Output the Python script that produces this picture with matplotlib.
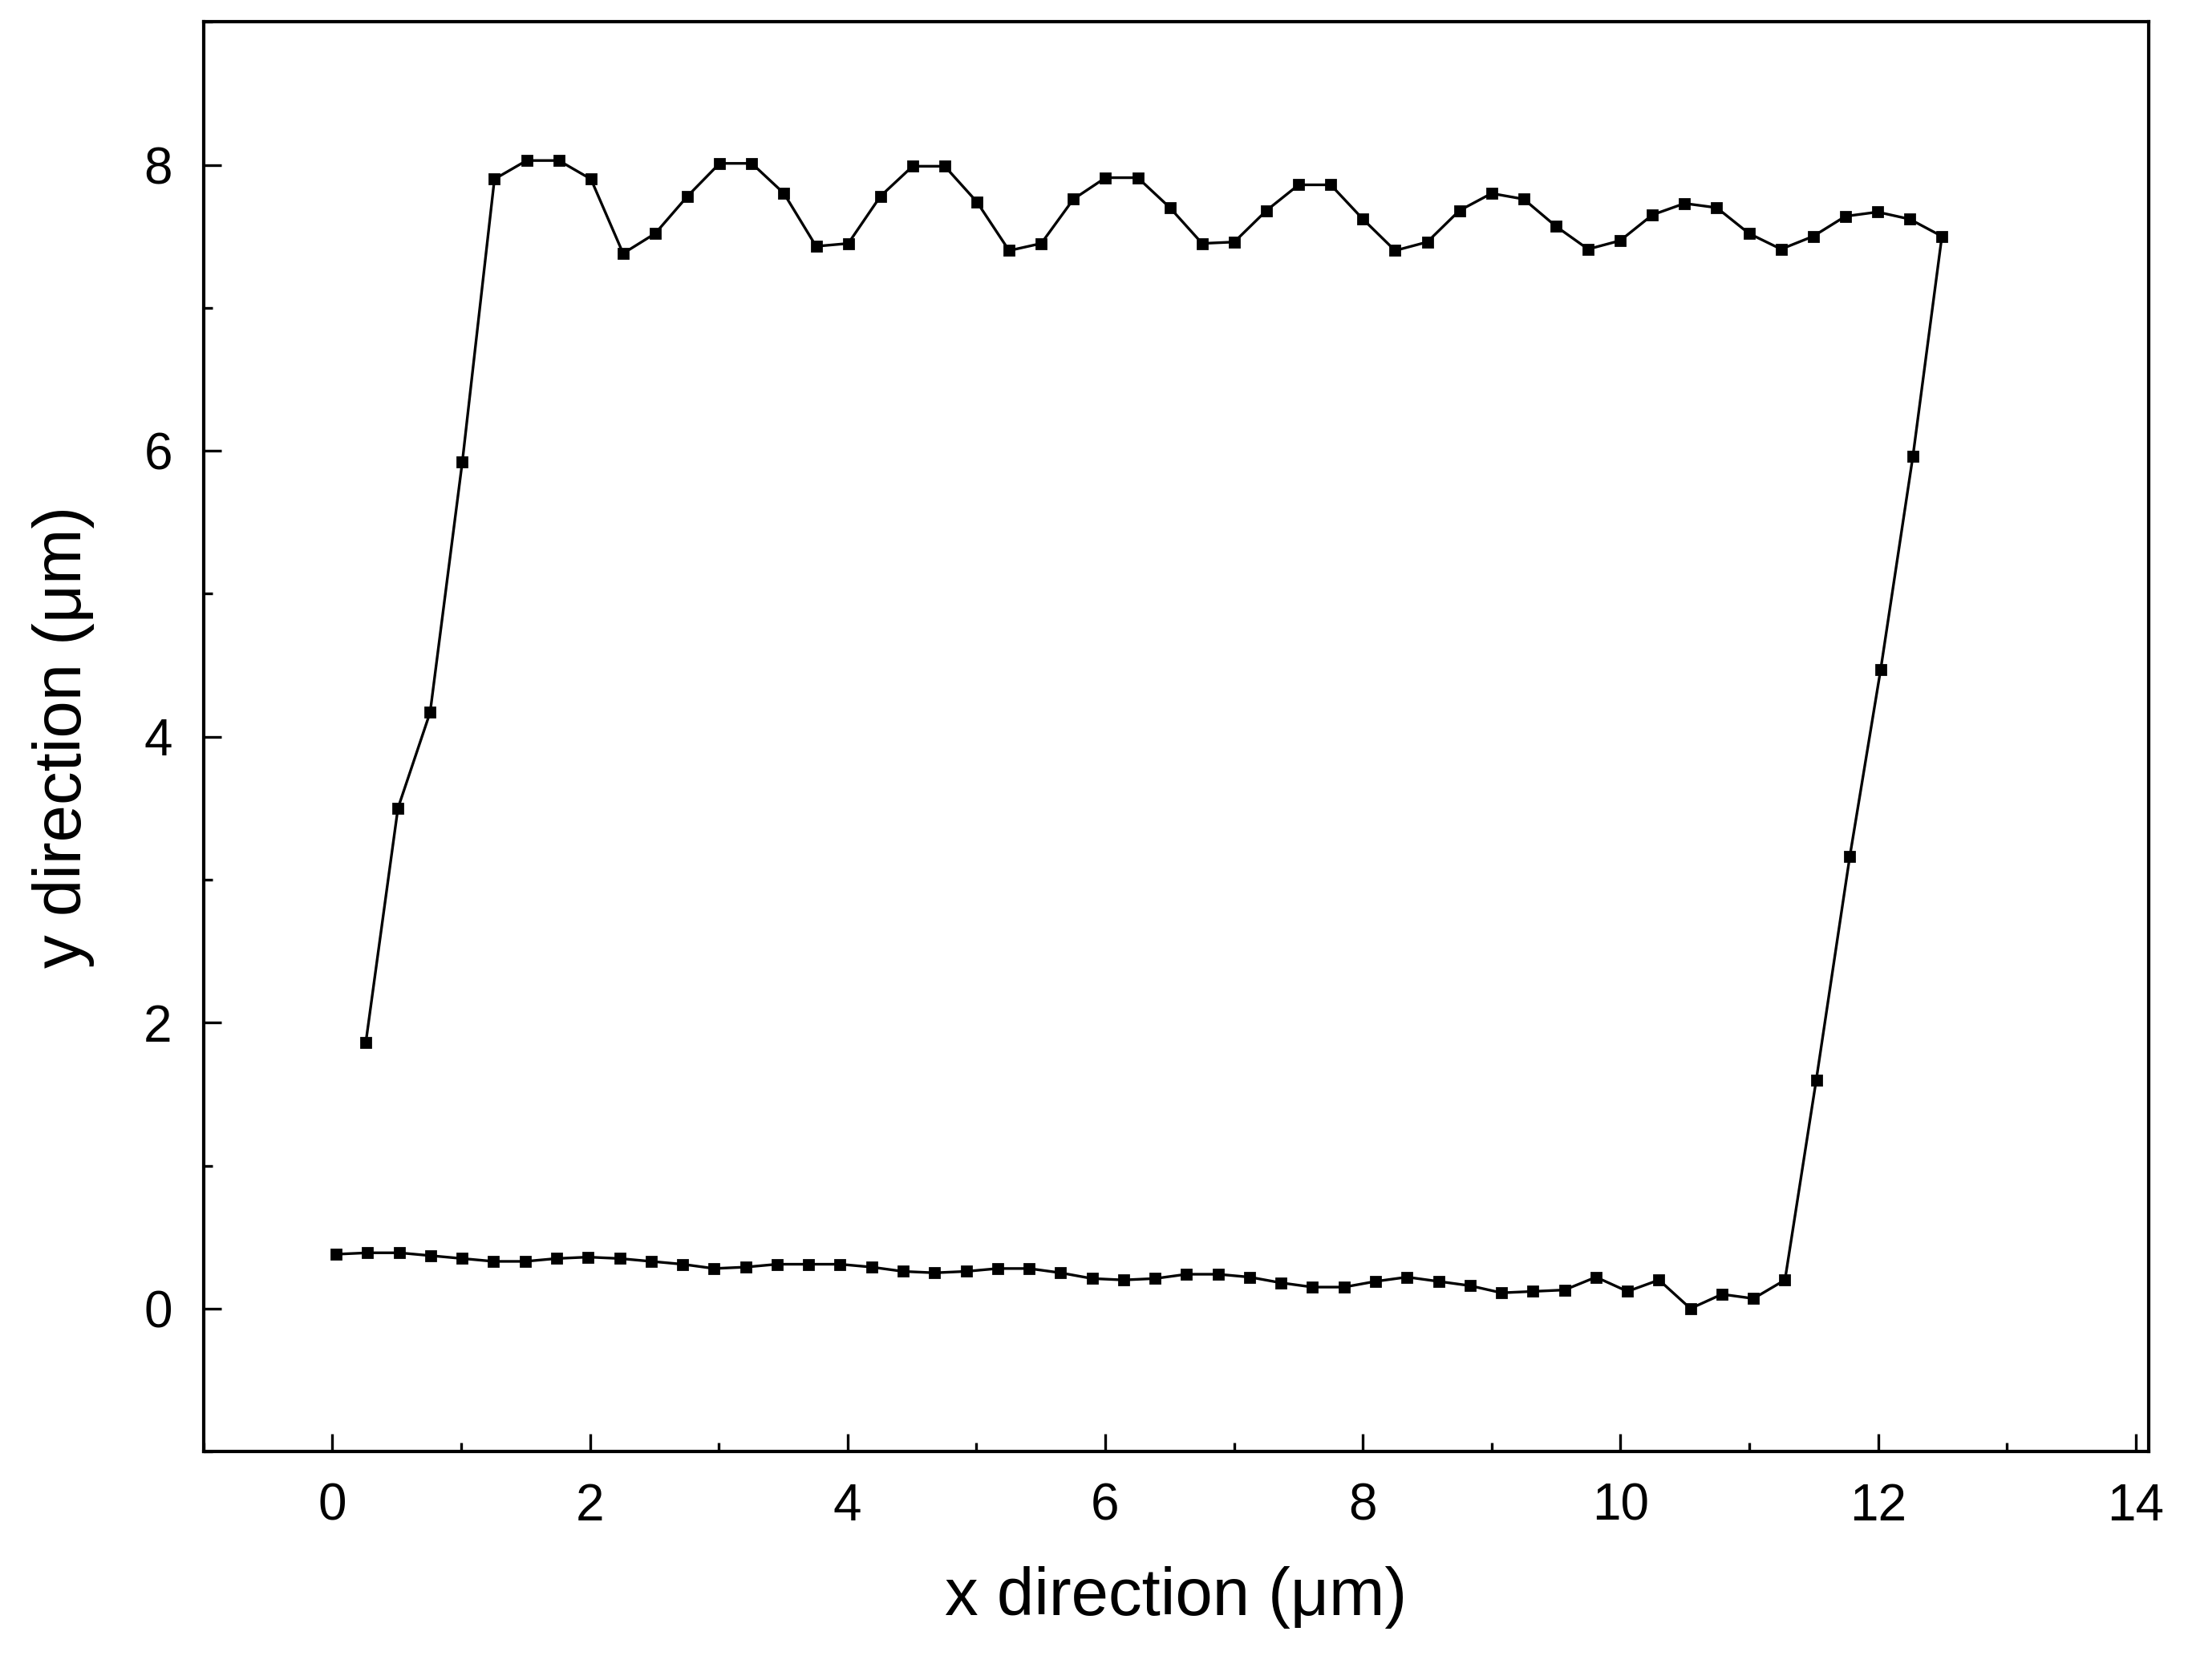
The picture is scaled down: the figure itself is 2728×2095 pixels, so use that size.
import matplotlib
matplotlib.use("Agg")
import matplotlib.pyplot as plt
import numpy as np
from matplotlib.ticker import MultipleLocator

plt.rcParams['font.family'] = ['Liberation Sans', 'DejaVu Sans']

bottom_y = [0.38, 0.39, 0.39, 0.37, 0.35, 0.33, 0.33, 0.35, 0.36, 0.35,
            0.33, 0.31, 0.28, 0.29, 0.31, 0.31, 0.31, 0.29, 0.26, 0.25,
            0.26, 0.28, 0.28, 0.25, 0.21, 0.20, 0.21, 0.24, 0.24, 0.22,
            0.18, 0.15, 0.15, 0.19, 0.22, 0.19, 0.16, 0.11, 0.12, 0.13,
            0.22, 0.12, 0.20, 0.00, 0.10, 0.07, 0.20]
bottom_x = [0.03 + 0.2445 * i for i in range(len(bottom_y))]

right_x = [11.52, 11.78, 12.02, 12.27]
right_y = [1.60, 3.16, 4.47, 5.96]

top_y = [1.86, 3.50, 4.17, 5.92, 7.90, 8.03, 8.03, 7.90, 7.38, 7.52,
         7.78, 8.01, 8.01, 7.80, 7.43, 7.45, 7.78, 7.99, 7.99, 7.74,
         7.40, 7.45, 7.76, 7.91, 7.91, 7.70, 7.45, 7.46, 7.68, 7.86,
         7.86, 7.62, 7.40, 7.46, 7.68, 7.80, 7.76, 7.57, 7.41, 7.47,
         7.65, 7.73, 7.70, 7.52, 7.41, 7.50, 7.64, 7.67, 7.62, 7.50]
top_x = [0.26 + 0.2497 * i for i in range(len(top_y))]

xs = bottom_x + right_x + top_x[::-1]
ys = bottom_y + right_y + top_y[::-1]

fig = plt.figure(figsize=(13.64, 10.475), dpi=200)
ax = fig.add_axes([0.093, 0.136, 0.889, 0.851])
ax.plot(xs, ys, '-s', color='black', lw=1.2, ms=4.5)
ax.set_xlim(-1, 14.1)
ax.set_ylim(-1, 9)
ax.xaxis.set_major_locator(MultipleLocator(2))
ax.xaxis.set_minor_locator(MultipleLocator(1))
ax.yaxis.set_major_locator(MultipleLocator(2))
ax.yaxis.set_minor_locator(MultipleLocator(1))
ax.tick_params(which='both', direction='in', labelsize=23, width=1.2)
ax.tick_params(which='major', length=8, pad=14)
ax.tick_params(which='minor', length=4)
for s in ax.spines.values():
    s.set_linewidth(1.5)
ax.set_xlabel('x direction (μm)', fontsize=30, labelpad=16)
ax.set_ylabel('y direction (μm)', fontsize=30, labelpad=22)
fig.savefig('out.png', dpi=200)
